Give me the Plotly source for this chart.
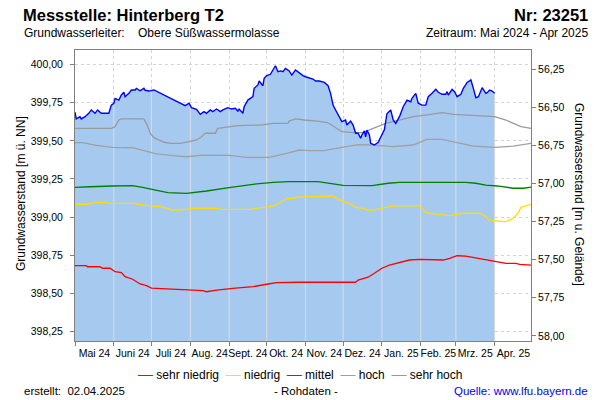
import numpy as np
import pandas as pd
import plotly.graph_objects as go

# --- data ----------------------------------------------------------------
# measured groundwater level, m ü. NN
mess_dates = [
    "2024-05-01", "2024-05-02", "2024-05-05", "2024-05-06", "2024-05-09", "2024-05-12",
    "2024-05-14", "2024-05-17", "2024-05-19", "2024-05-22", "2024-05-28", "2024-05-30",
    "2024-06-01", "2024-06-02", "2024-06-05", "2024-06-07", "2024-06-09", "2024-06-10",
    "2024-06-13", "2024-06-15", "2024-06-18", "2024-06-19", "2024-06-22", "2024-06-25",
    "2024-06-26", "2024-06-29", "2024-07-03", "2024-07-28", "2024-07-31", "2024-08-02",
    "2024-08-06", "2024-08-09", "2024-08-12", "2024-08-14", "2024-08-17", "2024-08-19",
    "2024-08-22", "2024-08-25", "2024-08-27", "2024-08-31", "2024-09-03", "2024-09-06",
    "2024-09-08", "2024-09-09", "2024-09-12", "2024-09-13", "2024-09-16", "2024-09-20",
    "2024-09-21", "2024-09-24", "2024-09-25", "2024-09-28", "2024-09-29", "2024-10-01",
    "2024-10-04", "2024-10-06", "2024-10-08", "2024-10-10", "2024-10-12", "2024-10-14",
    "2024-10-16", "2024-10-19", "2024-10-21", "2024-10-24", "2024-10-27", "2024-10-30",
    "2024-11-01", "2024-11-04", "2024-11-07", "2024-11-09", "2024-11-12", "2024-11-16",
    "2024-11-19", "2024-11-21", "2024-11-23", "2024-11-25", "2024-11-28", "2024-11-30",
    "2024-12-03", "2024-12-04", "2024-12-07", "2024-12-09", "2024-12-11", "2024-12-13",
    "2024-12-15", "2024-12-16", "2024-12-18", "2024-12-19", "2024-12-20", "2024-12-22",
    "2024-12-23", "2024-12-26", "2024-12-29", "2024-12-31", "2025-01-03", "2025-01-05",
    "2025-01-08", "2025-01-10", "2025-01-12", "2025-01-15", "2025-01-18", "2025-01-21",
    "2025-01-24", "2025-01-25", "2025-01-28", "2025-01-30", "2025-02-02", "2025-02-05",
    "2025-02-07", "2025-02-10", "2025-02-13", "2025-02-15", "2025-02-18", "2025-02-21",
    "2025-02-22", "2025-02-23", "2025-02-26", "2025-02-28", "2025-03-02", "2025-03-05",
    "2025-03-07", "2025-03-10", "2025-03-13", "2025-03-15", "2025-03-17", "2025-03-19",
    "2025-03-22", "2025-03-25", "2025-03-26", "2025-03-28", "2025-03-30", "2025-04-01",
]
mess_vals = [
    399.688, 399.644, 399.659, 399.644, 399.659, 399.681,
    399.703, 399.681, 399.703, 399.681, 399.681, 399.735,
    399.747, 399.779, 399.768, 399.801, 399.819, 399.790,
    399.812, 399.834, 399.834, 399.845, 399.829, 399.845,
    399.832, 399.827, 399.834, 399.731, 399.747, 399.718,
    399.707, 399.674, 399.692, 399.681, 399.703, 399.692,
    399.709, 399.692, 399.703, 399.718, 399.709, 399.714,
    399.696, 399.709, 399.681, 399.724, 399.768, 399.790,
    399.845, 399.867, 399.893, 399.862, 399.911, 399.928,
    399.937, 399.965, 399.993, 399.954, 399.959, 399.954,
    399.976, 399.959, 399.932, 399.965, 399.944, 399.928,
    399.921, 399.911, 399.906, 399.893, 399.893, 399.884,
    399.862, 399.812, 399.735, 399.703, 399.659, 399.626,
    399.637, 399.604, 399.630, 399.604, 399.550, 399.550,
    399.517, 399.539, 399.565, 399.527, 399.571, 399.539,
    399.484, 399.473, 399.491, 399.527, 399.575, 399.678,
    399.703, 399.637, 399.615, 399.659, 399.724, 399.768,
    399.757, 399.779, 399.812, 399.747, 399.735, 399.735,
    399.790, 399.812, 399.838, 399.819, 399.806, 399.806,
    399.823, 399.801, 399.838, 399.823, 399.790, 399.806,
    399.845, 399.884, 399.900, 399.845, 399.783, 399.790,
    399.849, 399.812, 399.816, 399.834, 399.827, 399.812,
]

sehr_hoch_dates = [
    "2024-05-01", "2024-05-30", "2024-06-02", "2024-06-05", "2024-06-07", "2024-06-25",
    "2024-06-27", "2024-06-30", "2024-07-03", "2024-07-07", "2024-07-11", "2024-07-17",
    "2024-07-24", "2024-07-31", "2024-08-06", "2024-08-10", "2024-08-13", "2024-08-21",
    "2024-08-23", "2024-09-08", "2024-09-26", "2024-10-06", "2024-10-18", "2024-10-19",
    "2024-10-24", "2024-10-31", "2024-11-11", "2024-11-19", "2024-11-24", "2024-11-30",
    "2024-12-09", "2024-12-17", "2024-12-25", "2025-01-04", "2025-01-15", "2025-01-26",
    "2025-02-06", "2025-02-18", "2025-02-27", "2025-03-21", "2025-04-01", "2025-04-10",
    "2025-04-22", "2025-04-30",
]
sehr_hoch = [
    399.582, 399.582, 399.593, 399.637, 399.644, 399.644,
    399.615, 399.550, 399.521, 399.506, 399.491, 399.484,
    399.484, 399.495, 399.506, 399.527, 399.550, 399.550,
    399.582, 399.600, 399.604, 399.615, 399.615, 399.630,
    399.644, 399.637, 399.630, 399.619, 399.593, 399.560,
    399.554, 399.554, 399.582, 399.615, 399.637, 399.659,
    399.670, 399.685, 399.674, 399.663, 399.659, 399.637,
    399.593, 399.582,
]

hoch_dates = [
    "2024-05-01", "2024-05-07", "2024-05-18", "2024-05-31", "2024-06-16", "2024-06-24",
    "2024-07-05", "2024-07-18", "2024-07-29", "2024-08-11", "2024-09-01", "2024-09-15",
    "2024-10-03", "2024-10-17", "2024-10-27", "2024-11-04", "2024-11-16", "2024-11-23",
    "2024-12-01", "2024-12-13", "2024-12-24", "2025-01-10", "2025-01-26", "2025-02-06",
    "2025-02-18", "2025-03-02", "2025-03-15", "2025-04-01", "2025-04-16", "2025-04-30",
]
hoch = [
    399.488, 399.488, 399.471, 399.458, 399.455, 399.436,
    399.414, 399.403, 399.396, 399.407, 399.405, 399.392,
    399.392, 399.418, 399.440, 399.436, 399.436, 399.447,
    399.458, 399.475, 399.473, 399.462, 399.473, 399.510,
    399.510, 399.488, 399.466, 399.458, 399.466, 399.484,
]

mittel_dates = [
    "2024-05-01", "2024-05-10", "2024-05-13", "2024-05-31", "2024-06-16", "2024-06-24",
    "2024-07-03", "2024-07-14", "2024-07-29", "2024-08-14", "2024-09-01", "2024-09-20",
    "2024-10-06", "2024-10-19", "2024-11-11", "2024-11-20", "2024-12-01", "2024-12-24",
    "2025-01-06", "2025-01-15", "2025-03-09", "2025-03-17", "2025-03-25", "2025-04-03",
    "2025-04-16", "2025-04-24", "2025-04-30",
]
mittel = [
    399.195, 399.195, 399.199, 399.204, 399.206, 399.195,
    399.178, 399.160, 399.156, 399.171, 399.193, 399.215,
    399.228, 399.232, 399.232, 399.222, 399.208, 399.206,
    399.222, 399.228, 399.228, 399.222, 399.210, 399.204,
    399.189, 399.189, 399.197,
]

niedrig_dates = [
    "2024-05-01", "2024-05-12", "2024-05-13", "2024-05-18", "2024-05-26", "2024-05-28",
    "2024-06-18", "2024-06-19", "2024-06-26", "2024-06-30", "2024-07-08", "2024-07-15",
    "2024-07-17", "2024-07-23", "2024-07-31", "2024-08-01", "2024-08-23", "2024-08-25",
    "2024-09-19", "2024-09-22", "2024-10-04", "2024-10-08", "2024-10-12", "2024-10-17",
    "2024-10-23", "2024-10-24", "2024-11-07", "2024-11-16", "2024-11-23", "2024-11-26",
    "2024-12-01", "2024-12-06", "2024-12-11", "2024-12-17", "2024-12-21", "2024-12-25",
    "2024-12-30", "2025-01-04", "2025-01-12", "2025-02-01", "2025-02-04", "2025-02-08",
    "2025-02-16", "2025-02-24", "2025-03-02", "2025-03-07", "2025-03-20", "2025-03-24",
    "2025-03-29", "2025-04-10", "2025-04-16", "2025-04-20", "2025-04-22", "2025-04-26",
    "2025-04-30",
]
niedrig = [
    399.084, 399.084, 399.090, 399.097, 399.097, 399.090,
    399.090, 399.084, 399.079, 399.073, 399.068, 399.055,
    399.046, 399.046, 399.053, 399.057, 399.057, 399.051,
    399.051, 399.057, 399.068, 399.079, 399.097, 399.123,
    399.123, 399.130, 399.134, 399.138, 399.138, 399.123,
    399.101, 399.090, 399.064, 399.057, 399.046, 399.046,
    399.057, 399.064, 399.073, 399.073, 399.035, 399.025,
    399.018, 399.009, 399.020, 399.025, 399.025, 399.007,
    398.976, 398.970, 398.992, 399.029, 399.064, 399.075,
    399.084,
]

sehr_niedrig_dates = [
    "2024-05-01", "2024-05-10", "2024-05-11", "2024-05-21", "2024-05-23", "2024-05-29",
    "2024-06-02", "2024-06-07", "2024-06-10", "2024-06-16", "2024-06-22", "2024-06-27",
    "2024-07-01", "2024-07-16", "2024-07-29", "2024-08-11", "2024-08-14", "2024-08-22",
    "2024-09-04", "2024-09-20", "2024-10-01", "2024-10-09", "2024-10-27", "2024-12-11",
    "2024-12-13", "2024-12-21", "2024-12-26", "2025-01-01", "2025-01-07", "2025-01-15",
    "2025-01-23", "2025-01-31", "2025-02-19", "2025-02-24", "2025-03-02", "2025-03-09",
    "2025-03-17", "2025-03-25", "2025-04-02", "2025-04-10", "2025-04-18", "2025-04-21",
    "2025-04-30",
]
sehr_niedrig = [
    398.681, 398.681, 398.674, 398.674, 398.664, 398.664,
    398.641, 398.635, 398.609, 398.592, 398.561, 398.550,
    398.534, 398.528, 398.519, 398.517, 398.510, 398.521,
    398.532, 398.543, 398.559, 398.569, 398.572, 398.572,
    398.586, 398.605, 398.631, 398.664, 398.685, 398.700,
    398.718, 398.722, 398.718, 398.729, 398.746, 398.744,
    398.733, 398.722, 398.707, 398.696, 398.696, 398.690,
    398.685,
]

month_labels = ["Mai 24", "Juni 24", "Juli 24", "Aug. 24", "Sept. 24", "Okt. 24",
                "Nov. 24", "Dez. 24", "Jan. 25", "Feb. 25", "Mrz. 25", "Apr. 25"]

GROUND = 456.22                      # Geländehöhe, m ü. NN
Y_RANGE = [398.1865, 400.0965]
X_RANGE = ["2024-05-01", "2025-04-30"]

FONT = "Liberation Sans, Arial, sans-serif"
FILL = "#a6c9f0"
AXIS = "#808080"
GRID = "#d4d4d4"

# --- helpers ------------------------------------------------------------
month_starts = pd.date_range("2024-05-01", "2025-05-01", freq="MS")
month_mids = [a + (b - a) / 2 for a, b in zip(month_starts[:-1], month_starts[1:])]
month_starts = month_starts[:-1]

mess_ts = pd.to_datetime(mess_dates)
# light vertical month lines drawn over the filled area
vx, vy = [], []
for m in month_starts[1:]:
    top = np.interp(m.value, mess_ts.asi8, mess_vals)
    vx += [m, m, None]
    vy += [Y_RANGE[0], top, None]

fig = go.Figure()

fig.add_trace(go.Scatter(
    x=mess_ts, y=mess_vals, mode="lines", fill="tozeroy",
    fillcolor=FILL, line=dict(width=0), hoverinfo="skip", showlegend=False,
))
fig.add_trace(go.Scatter(
    x=vx, y=vy, mode="lines", line=dict(color="#dcdcdc", width=1),
    hoverinfo="skip", showlegend=False,
))

series = [
    ("sehr hoch", sehr_hoch_dates, sehr_hoch, "#9a9a9a"),
    ("hoch", hoch_dates, hoch, "#a0a0a0"),
    ("mittel", mittel_dates, mittel, "#008000"),
    ("niedrig", niedrig_dates, niedrig, "#ffdd00"),
    ("sehr niedrig", sehr_niedrig_dates, sehr_niedrig, "#ff0000"),
]
for name, d, v, c in series:
    fig.add_trace(go.Scatter(
        x=pd.to_datetime(d), y=v, mode="lines", name=name,
        line=dict(color=c, width=1.3), showlegend=False,
    ))

fig.add_trace(go.Scatter(
    x=mess_ts, y=mess_vals, mode="lines", name="Messwert",
    line=dict(color="#0000ff", width=1.4), showlegend=False,
))
# depth below ground on the right axis
fig.add_trace(go.Scatter(
    x=mess_ts, y=[GROUND - v for v in mess_vals], mode="lines", yaxis="y2",
    line=dict(color="rgba(0,0,0,0)", width=0), hoverinfo="skip", showlegend=False,
))

fig.update_layout(
    width=600, height=400,
    margin=dict(l=75, r=69, t=50, b=59, autoexpand=False),
    paper_bgcolor="white", plot_bgcolor="white",
    font=dict(family=FONT, size=12, color="#000000"),
    separators=",.",
    showlegend=False,
    xaxis=dict(
        range=X_RANGE, showgrid=False, zeroline=False, automargin=False,
        tickmode="array", tickvals=month_mids, ticktext=month_labels,
        ticks="", tickangle=0, tickfont=dict(size=10.5), ticklabelstandoff=2,
        showline=True, linecolor=AXIS, linewidth=1, mirror=True,
        minor=dict(tickmode="array", tickvals=list(month_starts), ticks="outside",
                   ticklen=4, tickcolor=AXIS, showgrid=True, gridcolor=GRID,
                   griddash="3px,3px", gridwidth=1),
    ),
    yaxis=dict(
        range=Y_RANGE, tick0=398.25, dtick=0.25, tickformat=".2f",
        showgrid=True, gridcolor=GRID, griddash="3px,3px", zeroline=False,
        ticks="outside", ticklen=4, tickcolor=AXIS, tickfont=dict(size=10.5),
        ticklabelstandoff=5, automargin=False,
        showline=True, linecolor=AXIS, linewidth=1,
    ),
    yaxis2=dict(
        overlaying="y", side="right", automargin=False,
        range=[GROUND - Y_RANGE[0], GROUND - Y_RANGE[1]],
        tick0=56.25, dtick=0.25, tickformat=".2f", showgrid=False, zeroline=False,
        ticks="outside", ticklen=4, tickcolor=AXIS, tickfont=dict(size=10.5),
        showline=True, linecolor=AXIS, linewidth=1,
    ),
)


def px_x(p):
    return (p - 75) / 456


def px_y(p):
    return (341 - p) / 291


def note(text, x, y, anchor="left", size=12, color="#000000", angle=0, bold=False):
    if bold:
        text = "<b>" + text + "</b>"
    fig.add_annotation(
        text=text, x=px_x(x), y=px_y(y), xref="paper", yref="paper",
        xanchor=anchor, yanchor="middle", showarrow=False, textangle=angle,
        font=dict(family=FONT, size=size, color=color),
    )


note("Messstelle: Hinterberg T2", 21, 15, size=16.5, bold=True)
note("Nr: 23251", 590, 15, anchor="right", size=16.5, bold=True)
note("Grundwasserleiter:", 22, 33)
note("Obere Süßwassermolasse", 136, 33)
note("Zeitraum: Mai 2024 - Apr 2025", 590, 33, anchor="right")
note("Grundwasserstand [m ü. NN]", 21, 194, anchor="center", angle=-90)
note("Grundwasserstand [m u. Gelände]", 579, 194, anchor="center", angle=90)

# legend as one centred line of text with coloured dashes
nb = "\u00a0"
legend_text = (nb * 2).join(
    '<span style="color:%s;font-size:15px">—</span>%s%s' % (c, nb, name)
    for name, _, _, c in reversed(series)
)
note(legend_text, 300, 373, anchor="center")

note("erstellt:" + nb * 2 + "02.04.2025", 22, 391, size=11.5)
note("- Rohdaten -", 306, 391, anchor="center", size=11.5)
note("Quelle: www.lfu.bayern.de", 590, 391, anchor="right", size=11.5, color="#0000ff")

# the page's default body margin would shift the 600x400 figure
fig.write_html("out.html", config={"displayModeBar": False},
               post_script="document.body.style.margin='0';")
